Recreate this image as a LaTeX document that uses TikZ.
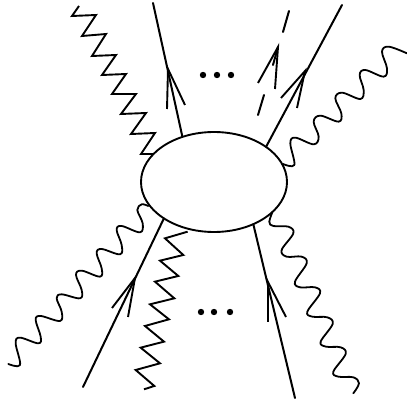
\documentclass[tikz,border=0pt]{standalone}
\usetikzlibrary{shapes.geometric}
\tikzset{
  ln/.style={line width=2pt,line cap=round,line join=miter,black},
  barb/.style={line width=1.9pt,line cap=butt,line join=miter,black},
  wig/.style={line width=1.8pt,line cap=round,line join=round,black},
  zig/.style={line width=1.9pt,line cap=butt,line join=miter,black},
  blobstyle/.style={ellipse,draw=black,line width=1.9pt,minimum width=146pt,minimum height=100pt,inner sep=0pt,outer sep=0pt,fill=white},
  dotty/.style={circle,fill=black,inner sep=0pt,minimum size=6.4pt}
}
\begin{document}
\begin{tikzpicture}[x=1pt,y=-1pt]
\useasboundingbox (0,0) rectangle (407,403);
\fill[white] (0,0) rectangle (407,403);
% free ends
\coordinate (f1) at (153,3);
\coordinate (f2) at (342,5);
\coordinate (f3) at (83,387);
\coordinate (f4) at (295,398);
% wavy/zigzag lines first (under blob)
\draw[zig] (79,6) -- (72,16) -- (96,15) -- (82,36) -- (106,34) -- (92,56) -- (116,55) -- (102,75) -- (126,74) -- (112,94) -- (136,94) -- (121,114) -- (146,113) -- (131,134) -- (155,133) -- (141,154) -- (155,154);
\begin{scope}[shift={(207pt,0pt)},x=0.3333pt,y=-0.3333pt]
\draw[wig] plot[smooth,tension=0.6] coordinates {(228,492)(262,495)(250,430)(265,413)(320,433)(335,410)(320,365)(340,347)(395,365)(403,340)(385,295)(405,278)(460,297)(470,270)(458,225)(475,210)(530,230)(540,205)(525,155)(545,140)(600,160)};
\end{scope}
\begin{scope}[shift={(0pt,-200pt)},x=0.3333pt,y=-0.3333pt]
\draw[wig] plot[smooth,tension=0.6] coordinates {(25,492)(60,495)(47,430)(60,413)(115,430)(122,410)(107,360)(122,348)(180,363)(185,335)(170,295)(185,283)(240,295)(245,270)(228,225)(245,212)(300,230)(305,205)(290,160)(305,147)(360,163)(365,135)(350,90)(365,78)(420,97)(428,70)(412,30)(425,13)(445,18)};
\draw[zig] (563,95)--(495,115)--(550,165)--(480,182)--(535,228)--(465,245)--(523,295)--(450,313)--(507,358)--(435,378)--(492,425)--(422,443)--(480,490)--(407,510)--(463,558)--(432,568);
\end{scope}
\begin{scope}[shift={(190pt,-200pt)},x=0.3333pt,y=-0.3333pt]
\draw[wig] plot[smooth,tension=0.6] coordinates {(250,30)(238,65)(250,78)(295,80)(310,100)(275,150)(290,170)(335,170)(350,190)(315,245)(330,262)(375,262)(390,280)(352,335)(367,350)(412,352)(428,372)(392,425)(408,440)(452,442)(467,462)(430,515)(445,530)(490,532)(507,550)(490,580)};
\end{scope}
% blob
\node[blobstyle] (blob) at (214,182) {};
% fermions
\draw[ln] (blob.125.4) -- (f1);
\draw[ln] (blob.34.5) -- (f2);
\draw[ln] (blob.216.7) -- (f3);
\draw[ln] (blob.-47.8) -- (f4);
% arrow barbs
\draw[barb] (167,109) -- (168,69) -- (185,105);
\draw[barb] (281,98) -- (305,71) -- (297,108);
\draw[barb] (112,308) -- (135,278) -- (128,317);
\draw[barb] (268,322) -- (268,282) -- (286,317);
% dashed line
\draw[ln] (289,11) -- (283,32);
\draw[ln] (278,47) -- (273,65);
\draw[ln] (264,95) -- (258,115);
\draw[barb] (258,83) -- (278,47) -- (275,89);
% dots
\node[dotty] (d1) at (203,75) {};
\node[dotty] (d2) at (217,75) {};
\node[dotty] (d3) at (231,75) {};
\node[dotty] (d4) at (201,312) {};
\node[dotty] (d5) at (214,312) {};
\node[dotty] (d6) at (230,312) {};
\end{tikzpicture}
\end{document}
